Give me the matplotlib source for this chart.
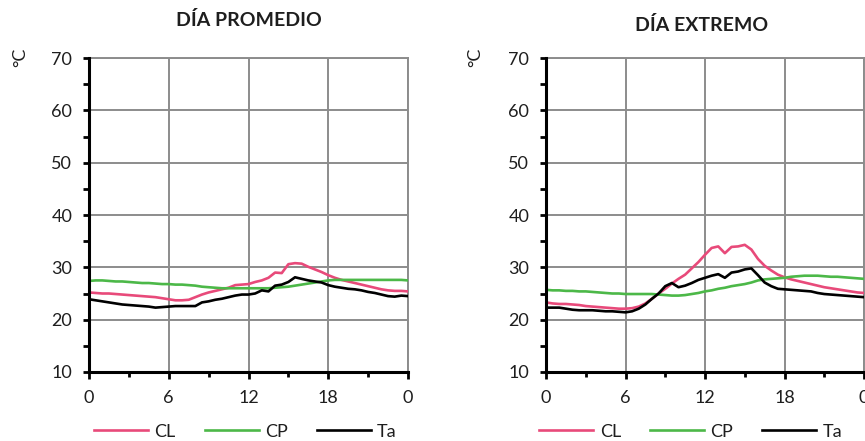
import matplotlib
matplotlib.use('Agg')
import matplotlib.pyplot as plt
from matplotlib.ticker import MultipleLocator
import numpy as np

plt.rcParams['font.family'] = ['Lato', 'DejaVu Sans']

# hours of the day, every half hour
horas = np.arange(0, 24.5, 0.5)
xtick_labels = ['0', '6', '12', '18', '0']
series_names = ['CL', 'CP', 'Ta']
series_colors = ['#e84a7a', '#4cb848', '#000000']

# average day
cl_prom = [25.2, 25.1, 25.0, 25.0, 24.9, 24.8, 24.7, 24.6, 24.5, 24.4, 24.3, 24.1, 23.9,
           23.7, 23.7, 23.8, 24.3, 24.8, 25.2, 25.5, 25.8, 26.1, 26.6, 26.7, 26.8, 27.2,
           27.5, 28.0, 29.0, 28.9, 30.6, 30.8, 30.7, 30.1, 29.6, 29.1, 28.5, 28.0, 27.6,
           27.3, 27.0, 26.7, 26.4, 26.1, 25.8, 25.6, 25.5, 25.5, 25.4]
cp_prom = [27.4, 27.5, 27.5, 27.4, 27.3, 27.3, 27.2, 27.1, 27.0, 27.0, 26.9, 26.8, 26.8,
           26.7, 26.7, 26.6, 26.5, 26.3, 26.2, 26.1, 26.0, 26.0, 26.0, 26.0, 26.0, 26.0,
           26.0, 26.0, 26.1, 26.2, 26.3, 26.5, 26.7, 26.9, 27.1, 27.3, 27.5, 27.6, 27.6,
           27.6, 27.6, 27.6, 27.6, 27.6, 27.6, 27.6, 27.6, 27.6, 27.5]
ta_prom = [23.9, 23.7, 23.5, 23.3, 23.1, 22.9, 22.8, 22.7, 22.6, 22.5, 22.3, 22.4, 22.5,
           22.6, 22.6, 22.6, 22.6, 23.3, 23.5, 23.8, 24.0, 24.3, 24.6, 24.8, 24.8, 25.0,
           25.6, 25.4, 26.5, 26.7, 27.2, 28.1, 27.8, 27.5, 27.3, 27.1, 26.6, 26.3, 26.1,
           25.9, 25.8, 25.6, 25.3, 25.1, 24.8, 24.5, 24.4, 24.6, 24.5]

# extreme day
cl_ext = [23.3, 23.1, 23.0, 23.0, 22.9, 22.8, 22.6, 22.5, 22.4, 22.3, 22.2, 22.1, 22.1,
          22.2, 22.5, 23.1, 24.0, 25.0, 25.9, 26.9, 27.8, 28.6, 29.8, 31.0, 32.4, 33.7,
          34.0, 32.7, 33.9, 34.0, 34.3, 33.4, 31.6, 30.3, 29.4, 28.6, 28.1, 27.7, 27.4,
          27.1, 26.8, 26.5, 26.2, 26.0, 25.8, 25.6, 25.4, 25.2, 25.1]
cp_ext = [25.7, 25.6, 25.6, 25.5, 25.5, 25.4, 25.4, 25.3, 25.2, 25.1, 25.0, 25.0, 24.9,
          24.9, 24.9, 24.9, 24.9, 24.8, 24.7, 24.6, 24.6, 24.7, 24.9, 25.1, 25.4, 25.6,
          25.9, 26.1, 26.4, 26.6, 26.8, 27.1, 27.5, 27.7, 27.8, 27.9, 28.0, 28.2, 28.3,
          28.4, 28.4, 28.4, 28.3, 28.2, 28.2, 28.1, 28.0, 27.9, 27.8]
ta_ext = [22.3, 22.3, 22.3, 22.1, 21.9, 21.8, 21.8, 21.8, 21.7, 21.6, 21.6, 21.5, 21.4,
          21.6, 22.1, 22.9, 24.0, 25.0, 26.4, 27.0, 26.2, 26.5, 27.0, 27.6, 28.0, 28.4,
          28.7, 28.0, 29.0, 29.2, 29.6, 29.8, 28.5, 27.1, 26.4, 25.9, 25.8, 25.7, 25.6,
          25.5, 25.4, 25.1, 24.9, 24.8, 24.7, 24.6, 24.5, 24.4, 24.3]

fig = plt.figure(figsize=(8.65, 4.41), dpi=100)
ax1 = fig.add_axes([89 / 865, 69 / 441, 319 / 865, 314 / 441])
ax2 = fig.add_axes([546 / 865, 69 / 441, 318 / 865, 314 / 441])

txt = '#1e1e1e'


def draw_panel(ax, values, legend_x):
    for name, col, vals in zip(series_names, series_colors, values):
        ax.plot(horas, vals, color=col, lw=1.9, label=name, zorder=3)
    ax.set_xlim(0, 24)
    ax.set_ylim(10, 70)
    ax.xaxis.set_major_locator(MultipleLocator(6))
    ax.xaxis.set_minor_locator(MultipleLocator(3))
    ax.yaxis.set_major_locator(MultipleLocator(10))
    ax.yaxis.set_minor_locator(MultipleLocator(5))
    ax.set_xticks([0, 6, 12, 18, 24], xtick_labels)
    ax.grid(True, which='major', color='#8c8c8c', lw=1.4, zorder=1)
    for s in ['top', 'right']:
        ax.spines[s].set_color('#8c8c8c')
        ax.spines[s].set_linewidth(1.4)
    for s in ['left', 'bottom']:
        ax.spines[s].set_color('black')
        ax.spines[s].set_linewidth(2.2)
        ax.spines[s].set_zorder(4)
    ax.tick_params(axis='y', which='both', direction='out', length=4, width=2,
                   pad=8, labelsize=13, colors='black', labelcolor=txt)
    ax.tick_params(axis='x', which='major', direction='out', length=5, width=2,
                   pad=8, labelsize=13, labelcolor=txt)
    ax.tick_params(axis='x', which='minor', direction='out', length=3.5, width=2)
    leg = ax.legend(loc='center', bbox_to_anchor=(legend_x, -0.19), ncol=3,
                    frameon=False, fontsize=13, handlelength=3.0,
                    handletextpad=0.35, columnspacing=1.6)
    for t in leg.get_texts():
        t.set_color(txt)


draw_panel(ax1, [cl_prom, cp_prom, ta_prom], 0.49)
draw_panel(ax2, [cl_ext, cp_ext, ta_ext], 0.455)

fig.text(249 / 865, 1 - 20 / 441, 'DÍA PROMEDIO', ha='center', va='center',
         fontsize=14, fontweight='bold', color=txt)
fig.text(702 / 865, 1 - 25 / 441, 'DÍA EXTREMO', ha='center', va='center',
         fontsize=14, fontweight='bold', color=txt)
fig.text(20 / 865, 1 - 57 / 441, '°C', rotation=90, ha='center', va='center',
         fontsize=13, color=txt)
fig.text(475 / 865, 1 - 57 / 441, '°C', rotation=90, ha='center', va='center',
         fontsize=13, color=txt)

fig.savefig('out.png', dpi=100, facecolor='white')
